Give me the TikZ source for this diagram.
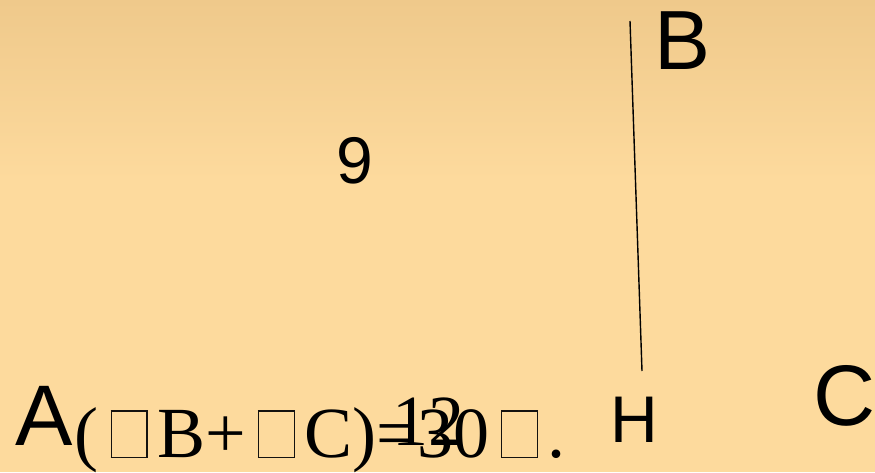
\documentclass[tikz,border=0pt]{standalone}
\usepackage{fontspec}
\setmainfont{Liberation Serif}
\newfontfamily\sansf{Liberation Sans}
\definecolor{bgtop}{RGB}{239,201,139}
\definecolor{bgbot}{RGB}{253,218,157}
\definecolor{tofuc}{RGB}{20,18,15}
\newcommand{\tofubox}{\hspace{12pt}{\color{tofuc}\setlength{\fboxsep}{0pt}\setlength{\fboxrule}{1.3pt}\fbox{\rule{0pt}{45.5pt}\hspace{34.5pt}}}\hspace{9.5pt}}
\begin{document}
\begin{tikzpicture}[x=1pt,y=1pt,
  sanslbl/.style={anchor=base west,inner sep=0pt,font=\sansf},
  seriftxt/.style={anchor=base west,inner sep=0pt,font=\fontsize{72}{80}\selectfont}]
\useasboundingbox (0,0) rectangle (875,472);
\shade[top color=bgtop,bottom color=bgbot] (0,292) rectangle (875,472);
\fill[bgbot] (0,0) rectangle (875,292.5);
\node[sanslbl,font=\sansf\fontsize{86}{90}\selectfont] (A) at (15,27) {A};
\node[sanslbl,font=\sansf\fontsize{84}{90}\selectfont] (B) at (654,402) {B};
\node[sanslbl,font=\sansf\fontsize{86}{90}\selectfont] (C) at (813,47) {C};
\node[sanslbl,font=\sansf\fontsize{66}{70}\selectfont] (H) at (610,30) {H};
\node[sanslbl,font=\sansf\fontsize{66}{70}\selectfont] (nine) at (336,288) {9};
\node[seriftxt] (formula) at (74.5,15) {(\tofubox B+\tofubox C)=30\tofubox.};
\node[seriftxt] (twelve) at (392,27) {12};
\coordinate (Btop) at (630,451);
\coordinate (Hfoot) at (642,101);
\draw[line width=1.4pt] (Btop) -- (Hfoot);
\end{tikzpicture}
\end{document}
